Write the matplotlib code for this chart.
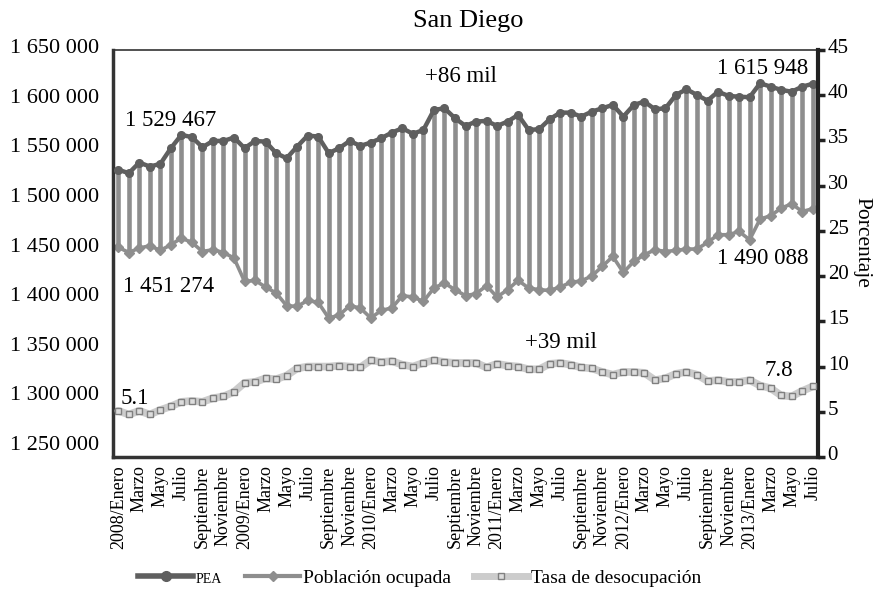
import matplotlib
matplotlib.use("Agg")
import matplotlib.pyplot as plt
import matplotlib.transforms as mtransforms
from matplotlib.lines import Line2D
import numpy as np

plt.rcParams['font.family'] = ['Liberation Serif', 'DejaVu Serif']

# monthly data, 2008/Enero .. 2013/Julio
pea = [1529467, 1525900, 1536600, 1532600, 1535300, 1551100, 1564500, 1562200,
       1552100, 1558400, 1558400, 1561800, 1551100, 1558400, 1557700, 1546100,
       1541000, 1552700, 1563800, 1562800, 1546100, 1551100, 1558400, 1553400,
       1556700, 1561200, 1566800, 1571200, 1565500, 1569500, 1589600, 1591300,
       1581300, 1573500, 1577900, 1578600, 1573500, 1577900, 1584600, 1569500,
       1570200, 1580300, 1586900, 1586900, 1582900, 1587900, 1591300, 1594700,
       1582900, 1594700, 1598000, 1590300, 1591300, 1604700, 1610500, 1604700,
       1599000, 1608000, 1603700, 1603000, 1602400, 1616500, 1613100, 1609800,
       1608000, 1613100, 1615948]

ocupada = [1451274, 1446000, 1450500, 1452800, 1448100, 1453800, 1460500, 1456100,
           1447000, 1448800, 1446000, 1440400, 1416900, 1417900, 1411200, 1405200,
           1392400, 1391700, 1397700, 1395700, 1380000, 1382900, 1392400, 1390100,
           1380000, 1387700, 1390100, 1402500, 1401200, 1396700, 1410200, 1415300,
           1408500, 1402500, 1404500, 1412500, 1401200, 1408500, 1417900, 1410200,
           1408500, 1407800, 1411200, 1415900, 1417400, 1422300, 1432000, 1442000,
           1425900, 1437000, 1443700, 1448800, 1447000, 1448100, 1449500, 1449500,
           1456100, 1463900, 1463900, 1467200, 1458800, 1479700, 1483000, 1490700,
           1495000, 1487300, 1490088]

tasa = [5.1, 4.7, 5.1, 4.7, 5.2, 5.6, 6.1, 6.2, 6.1, 6.5, 6.7, 7.2, 8.2, 8.3,
        8.7, 8.6, 9.0, 9.8, 10.0, 10.0, 10.0, 10.1, 10.0, 9.9, 10.7, 10.5, 10.6,
        10.2, 10.0, 10.4, 10.7, 10.5, 10.4, 10.4, 10.4, 9.9, 10.3, 10.1, 10.0,
        9.7, 9.7, 10.3, 10.4, 10.2, 9.9, 9.8, 9.4, 9.1, 9.4, 9.4, 9.3, 8.5, 8.7,
        9.2, 9.4, 9.1, 8.4, 8.5, 8.3, 8.3, 8.5, 7.9, 7.6, 6.8, 6.7, 7.3, 7.8]

years = ['2008', '2009', '2010', '2011', '2012', '2013']
months = ['Enero', 'Marzo', 'Mayo', 'Julio', 'Septiembre', 'Noviembre']
tick_labels = []
for y in years:
    for m in months:
        tick_labels.append(y + '/' + m if m == 'Enero' else m)
tick_labels = tick_labels[:34]

x = np.arange(len(pea))

fig = plt.figure(figsize=(8.82, 5.99), dpi=100)
ax = fig.add_axes([113 / 882, 1 - 457 / 599, 705 / 882, 407 / 599])

c_pea = '#5f5f5f'
c_ocu = '#8e8e8e'
c_tasa = '#cccccc'

ax.vlines(x, ocupada, pea, color=c_ocu, lw=3.3, zorder=1)
ax.plot(x, ocupada, color=c_ocu, lw=2.6, marker='D', ms=5.5, mfc=c_ocu, mec=c_ocu, zorder=2)
ax.plot(x, pea, color=c_pea, lw=3.2, marker='o', ms=5.5, mfc=c_pea, mec=c_pea, zorder=3)

ax.set_xlim(-0.5, len(x) - 0.5)
ax.set_ylim(1240000, 1650000)
yt = np.arange(1250000, 1650001, 50000)
ax.set_yticks(yt)
ax.set_yticklabels(['{:,}'.format(v).replace(',', ' ') for v in yt], fontsize=16)
ax.set_xticks(x[::2])
ax.set_xticklabels(tick_labels, rotation=90, fontsize=13, va='top', ha='center')
ax.tick_params(axis='x', length=0, pad=6)
ax.tick_params(axis='y', length=0, pad=10)

for s in ax.spines.values():
    s.set_color('#333333')
ax.spines['left'].set_linewidth(2.5)
ax.spines['bottom'].set_linewidth(2.5)
ax.spines['top'].set_linewidth(1.2)
ax.spines['right'].set_linewidth(1.2)

ax2 = ax.twinx()
ax2.plot(x, tasa, color=c_tasa, lw=5.5, solid_capstyle='round', zorder=2)
ax2.plot(x, tasa, ls='none', marker='s', ms=4, mfc='#dddddd', mec='#808080', mew=1, zorder=3)
ax2.set_ylim(0, 45)
ax2.set_yticks(np.arange(0, 46, 5))
ax2.set_yticklabels([str(v) for v in range(0, 46, 5)], fontsize=15)
ax2.tick_params(axis='y', direction='out', length=5, width=2.5, color='#222222', pad=2)
ax2.spines['right'].set_linewidth(3)
ax2.spines['right'].set_color('#222222')
for k in ['left', 'top', 'bottom']:
    ax2.spines[k].set_visible(False)

# tick labels in the reference sit a few pixels above their ticks
lift = mtransforms.ScaledTranslation(0, 0.04, fig.dpi_scale_trans)
for lab in ax.get_yticklabels() + ax2.get_yticklabels():
    lab.set_transform(lab.get_transform() + lift)

fig.text(468 / 882, 1 - 21 / 599, 'San Diego', ha='center', va='center', fontsize=19)
fig.text(862 / 882, 1 - 242 / 599, 'Porcentaje', ha='center', va='center',
         rotation=270, fontsize=15.5)

def ptext(px, py, s, size=16.5):
    fig.text(px / 882, 1 - py / 599, s, ha='center', va='center', fontsize=size)

ptext(171, 121, '1 529 467')
ptext(461, 76, '+86 mil')
ptext(763, 69, '1 615 948')
ptext(169, 286, '1 451 274')
ptext(763, 258, '1 490 088')
ptext(561, 342, '+39 mil')
ptext(135, 398, '5.1')
ptext(779, 371, '7.8')

handles = [
    Line2D([], [], color=c_pea, lw=4, marker='o', ms=7, mfc=c_pea),
    Line2D([], [], color=c_ocu, lw=3, marker='D', ms=5.5, mfc=c_ocu),
    Line2D([], [], color=c_tasa, lw=5, marker='s', ms=5, mfc='#dddddd', mec='#808080'),
]
leg = fig.legend(handles, ['PEA', 'Población ocupada', 'Tasa de desocupación'],
                 loc='center', bbox_to_anchor=(420 / 882, 1 - 578 / 599), ncol=3,
                 frameon=False, fontsize=14, handlelength=2.8, columnspacing=1.2,
                 handletextpad=0.15)
leg.get_texts()[0].set_fontsize(10)

fig.savefig('out.png', dpi=100)
